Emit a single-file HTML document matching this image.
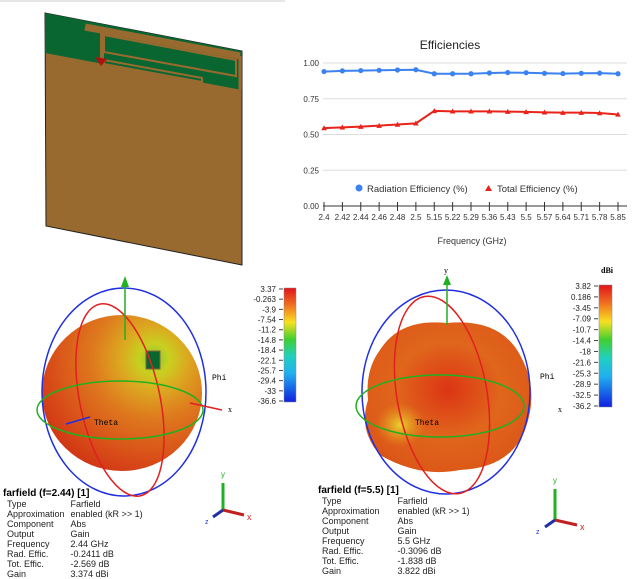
<!DOCTYPE html>
<html><head><meta charset="utf-8"><style>
body{margin:0;width:639px;height:578px;background:#fff;overflow:hidden;font-family:"Liberation Sans",sans-serif;position:relative}
svg{position:absolute;left:0;top:0}
.info{position:absolute;font-size:9px;color:#222;line-height:10px}
.info b{font-size:10px;color:#000}
.info td{padding:0 6px 0 0;white-space:nowrap}
.info table{border-collapse:collapse;margin-left:4px}
</style></head><body>
<svg width="639" height="578">
<defs>
<radialGradient id="sph1" cx="0.7" cy="0.28" r="0.95">
<stop offset="0" stop-color="#7cc83a"/><stop offset="0.1" stop-color="#c8d020"/><stop offset="0.22" stop-color="#dca820"/><stop offset="0.4" stop-color="#de7a1e"/><stop offset="0.7" stop-color="#d84a18"/><stop offset="1" stop-color="#c82010"/></radialGradient>
<radialGradient id="sph2" cx="0.5" cy="0.45" r="0.7">
<stop offset="0" stop-color="#dc3414"/><stop offset="0.45" stop-color="#e0661c"/><stop offset="0.8" stop-color="#dc5818"/><stop offset="1" stop-color="#c83412"/></radialGradient>
<radialGradient id="sph2b" cx="0.5" cy="0.5" r="0.5"><stop offset="0" stop-color="#e8e030" stop-opacity="0.9"/><stop offset="1" stop-color="#e8a020" stop-opacity="0"/></radialGradient>
<linearGradient id="cb" x1="0" y1="0" x2="0" y2="1">
<stop offset="0" stop-color="#e0141a"/><stop offset="0.15" stop-color="#f07020"/><stop offset="0.3" stop-color="#f8e020"/><stop offset="0.45" stop-color="#40d030"/><stop offset="0.6" stop-color="#20d0c0"/><stop offset="0.75" stop-color="#20b0f0"/><stop offset="1" stop-color="#1020e0"/></linearGradient>
</defs>
<line x1="0" y1="1" x2="285" y2="1" stroke="#ccc"/>
<g>
<polygon points="45,13 242,51 242,265 46,226" fill="#986a30" stroke="#222" stroke-width="1"/>
<polygon points="45,13 242,51 242,90 45,53" fill="#0a6630"/>
<g stroke="#986a30" fill="none">
<line x1="85" y1="27" x2="240" y2="56" stroke-width="7"/>
<line x1="240" y1="56" x2="240" y2="90" stroke-width="3"/>
<line x1="102" y1="30" x2="102" y2="62" stroke-width="4"/>
<polygon points="104,35 236,60 236,76 104,52" stroke-width="2"/>
<polygon points="104,60 202,78 202,82 104,64" stroke-width="2"/>
</g>
<polygon points="95,57 107,59 101,66" fill="#b01010"/>
</g>
<g id="chart"></g>
<g>
<ellipse cx="122" cy="393" rx="80" ry="78" fill="url(#sph1)"/>
<rect x="146" y="351" width="14" height="18" fill="#0a6630" stroke="#8a6030"/>
<ellipse cx="124" cy="392" rx="82" ry="104" fill="none" stroke="#2030e0" stroke-width="1.5"/>
<ellipse cx="120" cy="400" rx="40" ry="98" transform="rotate(-12 120 400)" fill="none" stroke="#e02020" stroke-width="1.5"/>
<ellipse cx="120" cy="410" rx="83" ry="29" fill="none" stroke="#20b020" stroke-width="1.5"/>
<line x1="125" y1="340" x2="125" y2="285" stroke="#20b020" stroke-width="1.5"/><polygon points="121,287 125,276 129,287" fill="#20b020"/>
<line x1="190" y1="403" x2="222" y2="410" stroke="#e02020" stroke-width="1.5"/><text x="228" y="412" font-size="8" font-family="Liberation Serif">x</text>
<line x1="90" y1="417" x2="66" y2="424" stroke="#2030e0" stroke-width="1.5"/><text x="94" y="425" font-size="8" font-family="Liberation Mono">Theta</text>
<text x="212" y="380" font-size="8" font-family="Liberation Mono">Phi</text>
</g>
<g>
<path d="M380,350 Q400,318 447,323 Q500,318 520,355 Q540,390 525,430 Q510,468 460,470 Q420,478 380,455 Q358,430 368,400 Q365,370 380,350 Z" fill="url(#sph2)"/>
<ellipse cx="400" cy="425" rx="25" ry="22" fill="url(#sph2b)"/>
<ellipse cx="446" cy="392" rx="84" ry="102" fill="none" stroke="#2030e0" stroke-width="1.5"/>
<ellipse cx="442" cy="395" rx="45" ry="100" transform="rotate(-10 442 395)" fill="none" stroke="#e02020" stroke-width="1.5"/>
<ellipse cx="440" cy="406" rx="84" ry="31" fill="none" stroke="#20b020" stroke-width="1.5"/>
<line x1="447" y1="325" x2="447" y2="283" stroke="#20b020" stroke-width="1.5"/><polygon points="443,285 447,275 451,285" fill="#20b020"/>
<text x="444" y="273" font-size="8" font-family="Liberation Serif">y</text>
<text x="558" y="412" font-size="8" font-family="Liberation Serif">x</text>
<text x="415" y="425" font-size="8" font-family="Liberation Mono">Theta</text>
<text x="540" y="379" font-size="8" font-family="Liberation Mono">Phi</text>
</g>
<g>
<rect x="284" y="288" width="12" height="114" fill="url(#cb)" stroke="#888" stroke-width="0.5"/>
<g id="cbl" font-size="8" text-anchor="end" fill="#222"></g>
</g>
<g>
<text x="601" y="273" font-size="8" font-weight="bold" font-family="Liberation Serif">dBi</text>
<rect x="599" y="285" width="13" height="122" fill="url(#cb)" stroke="#888" stroke-width="0.5"/>
<g id="cbr" font-size="8" text-anchor="end" fill="#222"></g>
</g>
<g>
<line x1="223" y1="510" x2="223" y2="483" stroke="#20b020" stroke-width="3"/><text x="221" y="477" font-size="8" fill="#20b020">y</text>
<line x1="223" y1="510" x2="244" y2="515" stroke="#c02020" stroke-width="3"/><text x="247" y="520" font-size="9" fill="#e02020">x</text>
<line x1="223" y1="510" x2="213" y2="517" stroke="#2030a0" stroke-width="3"/><text x="205" y="524" font-size="7" fill="#2030e0">z</text>
</g>
<g>
<line x1="555" y1="520" x2="555" y2="489" stroke="#20b020" stroke-width="3"/><text x="553" y="483" font-size="8" fill="#20b020">y</text>
<line x1="555" y1="520" x2="577" y2="525" stroke="#c02020" stroke-width="3"/><text x="580" y="530" font-size="9" fill="#e02020">x</text>
<line x1="555" y1="520" x2="545" y2="527" stroke="#2030a0" stroke-width="3"/><text x="536" y="534" font-size="7" fill="#2030e0">z</text>
</g>
</svg>
<div class="info" style="left:3px;top:488px">
<b>farfield (f=2.44) [1]</b>
<table><tr><td>Type</td><td>Farfield</td></tr><tr><td>Approximation</td><td>enabled (kR &gt;&gt; 1)</td></tr><tr><td>Component</td><td>Abs</td></tr><tr><td>Output</td><td>Gain</td></tr><tr><td>Frequency</td><td>2.44 GHz</td></tr><tr><td>Rad. Effic.</td><td>-0.2411 dB</td></tr><tr><td>Tot. Effic.</td><td>-2.569 dB</td></tr><tr><td>Gain</td><td>3.374 dBi</td></tr></table></div>
<div class="info" style="left:318px;top:485px">
<b>farfield (f=5.5) [1]</b>
<table><tr><td>Type</td><td style="padding-left:12px">Farfield</td></tr><tr><td>Approximation</td><td style="padding-left:12px">enabled (kR &gt;&gt; 1)</td></tr><tr><td>Component</td><td style="padding-left:12px">Abs</td></tr><tr><td>Output</td><td style="padding-left:12px">Gain</td></tr><tr><td>Frequency</td><td style="padding-left:12px">5.5 GHz</td></tr><tr><td>Rad. Effic.</td><td style="padding-left:12px">-0.3096 dB</td></tr><tr><td>Tot. Effic.</td><td style="padding-left:12px">-1.838 dB</td></tr><tr><td>Gain</td><td style="padding-left:12px">3.822 dBi</td></tr></table></div>
<script>
const categories=["2.4","2.42","2.44","2.46","2.48","2.5","5.15","5.22","5.29","5.36","5.43","5.5","5.57","5.64","5.71","5.78","5.85"];
const radEff=[0.94,0.945,0.947,0.949,0.951,0.953,0.925,0.925,0.925,0.93,0.933,0.932,0.928,0.926,0.928,0.929,0.925];
const totEff=[0.545,0.55,0.555,0.562,0.57,0.578,0.665,0.662,0.662,0.662,0.66,0.658,0.655,0.653,0.653,0.65,0.64];
const yTicks=[0,0.25,0.5,0.75,1];
const cbLeft=["3.37","-0.263","-3.9","-7.54","-11.2","-14.8","-18.4","-22.1","-25.7","-29.4","-33","-36.6"];
const cbRight=["3.82","0.186","-3.45","-7.09","-10.7","-14.4","-18","-21.6","-25.3","-28.9","-32.5","-36.2"];
const NS="http://www.w3.org/2000/svg";
function mk(p,t,a,txt){const e=document.createElementNS(NS,t);for(const k in a)e.setAttribute(k,a[k]);if(txt!==undefined)e.textContent=txt;p.appendChild(e);return e;}
const g=document.getElementById('chart');
const L=323,R=627,T=63,B=206,x0=324,x1=618;
const xs=i=>x0+i*(x1-x0)/(categories.length-1);
const ys=v=>B-v*(B-T);
let e=mk(g,'text',{x:450,y:49,'text-anchor':'middle','font-size':12,fill:'#222'},'Efficiencies');

yTicks.forEach(v=>{
 e=mk(g,'line',{x1:L,x2:R,y1:ys(v),y2:ys(v),stroke:v===0?'#333':'#ddd'});
 
 e=mk(g,'text',{x:L-4,y:ys(v)+3,'text-anchor':'end','font-size':8,fill:'#333'},v.toFixed(2));
 
});
categories.forEach((c,i)=>{
 e=mk(g,'line',{x1:xs(i),x2:xs(i),y1:B-4,y2:B+5,stroke:'#333'});
 
 e=mk(g,'text',{x:xs(i),y:220,'text-anchor':'middle','font-size':8,fill:'#333'},c);
 
});
e=mk(g,'text',{x:472,y:244,'text-anchor':'middle','font-size':9,fill:'#333'},'Frequency (GHz)');

e=mk(g,'polyline',{points:radEff.map((v,i)=>xs(i)+','+ys(v)).join(' '),fill:'none',stroke:'#3b82f0','stroke-width':2});

radEff.forEach((v,i)=>{e=mk(g,'circle',{cx:xs(i),cy:ys(v),r:2.6,fill:'#3b82f0'});
 });
e=mk(g,'polyline',{points:totEff.map((v,i)=>xs(i)+','+ys(v)).join(' '),fill:'none',stroke:'#e8231a','stroke-width':2});

totEff.forEach((v,i)=>{const x=xs(i),y=ys(v);e=mk(g,'polygon',{points:`${x-2.8},${y+2.2} ${x},${y-2.8} ${x+2.8},${y+2.2}`,fill:'#e8231a'});
 });
e=mk(g,'circle',{cx:359,cy:188,r:3.5,fill:'#3b82f0'});

e=mk(g,'text',{x:367,y:192,'font-size':9.5,fill:'#333'},'Radiation Efficiency (%)');

e=mk(g,'polygon',{points:'485,191 488.5,185 492,191',fill:'#e8231a'});

e=mk(g,'text',{x:497,y:192,'font-size':9.5,fill:'#333'},'Total Efficiency (%)');

function cbar(id,labels,top,bot,xr,xt){const p=document.getElementById(id);
 labels.forEach((l,i)=>{const y=top+i*(bot-top)/(labels.length-1);
  e=mk(p,'text',{x:xr,y:y+3},l);
  e=mk(p,'line',{x1:xt,x2:xt+4,y1:y,y2:y,stroke:'#444'});});}
cbar('cbl',cbLeft,289,401,276,279);
cbar('cbr',cbRight,286,406,591,594);
</script>
</body></html>
